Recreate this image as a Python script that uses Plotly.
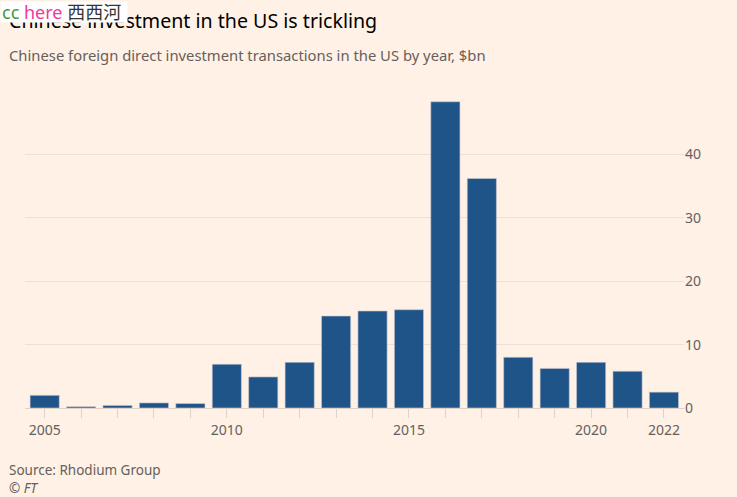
import plotly.graph_objects as go

years = list(range(2005, 2023))
values = [2.0, 0.2, 0.4, 0.8, 0.7, 6.9, 4.9, 7.2, 14.5, 15.3, 15.5, 48.3, 36.2, 8.0, 6.25, 7.2, 5.8, 2.5]
label_years = [2005, 2010, 2015, 2020, 2022]
y_ticks = [0, 10, 20, 30, 40]

W, H = 737, 497
ml, mr, mt, mb = 25, 53, 90.5, 89
pw = W - ml - mr
ph = H - mt - mb

def px_x(p):
    return (p - ml) / pw

def px_y(p):
    return (H - mb - p) / ph

fig = go.Figure()
fig.add_trace(go.Bar(
    x=years, y=values,
    marker=dict(color="#1f5489", line=dict(color="rgba(200,200,210,0.6)", width=1)),
    hoverinfo="x+y",
))

fig.update_layout(
    width=W, height=H,
    margin=dict(l=ml, r=mr, t=mt, b=mb),
    paper_bgcolor="#FFF1E5", plot_bgcolor="#FFF1E5",
    bargap=0.2,
    showlegend=False,
    font=dict(family="Noto Sans, sans-serif", color="#66605c", size=14),
    xaxis=dict(
        range=[2004.46, 2022.55],
        tickvals=years,
        ticktext=[str(y) if y in label_years else "" for y in years],
        ticks="outside", ticklen=9, tickcolor="#ddd2c8", tickwidth=1,
        showline=True, linecolor="#ddd2c8", linewidth=1,
        showgrid=False, zeroline=False,
        tickfont=dict(size=14, color="#66605c"),
    ),
    yaxis=dict(
        range=[0, 50], side="right",
        tickvals=y_ticks,
        showgrid=True, gridcolor="#ebe1d8", gridwidth=1,
        zeroline=False, ticks="",
        tickfont=dict(size=14, color="#66605c"),
    ),
)

anns = [
    dict(text="Chinese investment in the US is trickling", x=px_x(7), y=px_y(20),
         font=dict(size=19.6, color="#000000")),
    dict(text="Chinese foreign direct investment transactions in the US by year, $bn", x=px_x(7), y=px_y(54),
         font=dict(size=14.8, color="#66605c")),
    dict(text="Source: Rhodium Group", x=px_x(7), y=px_y(470),
         font=dict(size=13.5, color="#66605c")),
    dict(text="<i>© FT</i>", x=px_x(7), y=px_y(488),
         font=dict(size=13.5, color="#66605c")),
]
for a in anns:
    fig.add_annotation(xref="paper", yref="paper", xanchor="left", yanchor="middle",
                       showarrow=False, **a)

fig.add_annotation(
    xref="paper", yref="paper", x=px_x(0), y=px_y(0), xanchor="left", yanchor="top",
    showarrow=False, align="left", width=124, height=18, valign="middle",
    text='<span style="color:#3c9a3c">cc</span> <span style="color:#ee3a9c">here</span> <span style="color:#333333">西西河</span>',
    font=dict(size=18, family="Noto Sans, Noto Sans CJK SC, sans-serif"),
    bgcolor="#ffffff", borderpad=1,
)

fig.write_html("out.html", config={"displayModeBar": False},
               post_script="document.body.style.margin='0';document.body.style.padding='0';")
